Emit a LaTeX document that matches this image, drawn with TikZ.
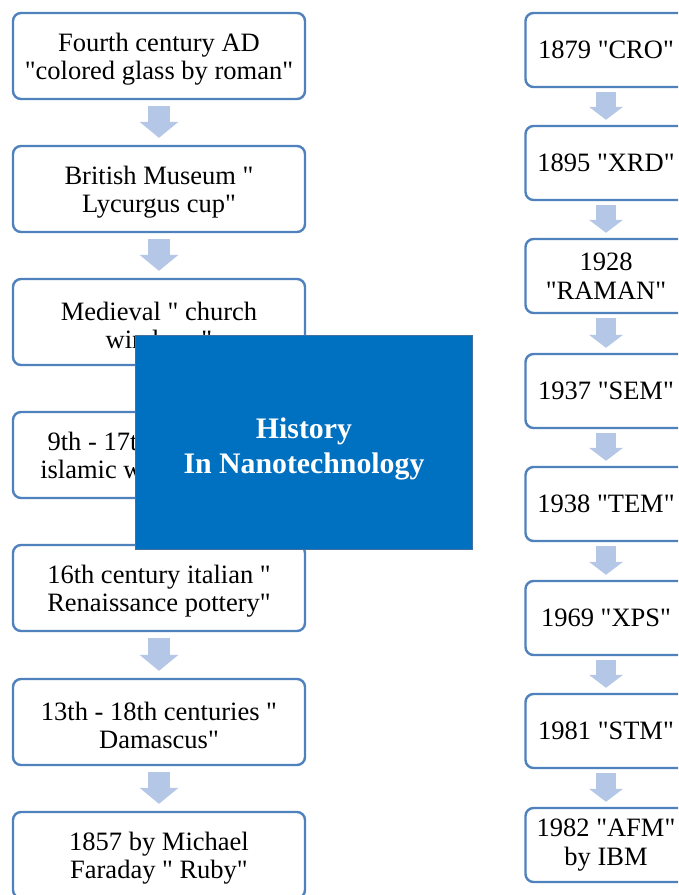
\documentclass[tikz,border=0pt]{standalone}
\usepackage{fontspec}
\setmainfont{Liberation Serif}
\newfontfamily\boxfont{Liberation Serif}
\usepackage{xcolor}
\usepackage{tikz}
\usetikzlibrary{arrows.meta,positioning}
\definecolor{boxline}{RGB}{79,129,189}
\definecolor{arrowfill}{RGB}{180,199,231}
\definecolor{titlefill}{RGB}{0,112,192}
\definecolor{titleline}{RGB}{65,113,156}

\begin{document}
\begin{tikzpicture}[x=1pt, y=-1pt, box/.style={draw=boxline, line width=2.4pt, rounded corners=8pt, fill=white, align=center, inner sep=0pt, minimum width=292pt, minimum height=86pt, font=\boxfont\fontsize{26.5}{28.5}\selectfont}, tool/.style={box, minimum width=161pt, minimum height=74pt}, down/.style={line width=22pt, draw=arrowfill, -{Triangle[width=39pt,length=16pt,line width=0pt]}}, downs/.style={line width=20pt, draw=arrowfill, -{Triangle[width=34pt,length=13pt,line width=0pt]}}, title/.style={draw=titleline, line width=1.5pt, fill=titlefill, text=white, align=center, inner sep=0pt, minimum width=337pt, minimum height=214pt, font=\boxfont\fontsize{29.8}{35}\selectfont\bfseries}]
\useasboundingbox (0,0) rectangle (678,895);
\clip (0,0) rectangle (678,895);
\node[box] (roman) at (159,56) {\rule{0pt}{25pt}Fourth century AD\\"colored glass by roman"};
\node[box] (lycurgus) at (159,189) {\rule{0pt}{25pt}British Museum "\\Lycurgus cup"};
\node[box] (church) at (159,322) {\rule{0pt}{25pt}Medieval " church\\windows"};
\node[box] (islamic) at (159,455) {\rule{0pt}{25pt}9th - 17th centuries "\\islamic world pottery"};
\node[box] (pottery) at (159,588) {\rule{0pt}{25pt}16th century italian "\\Renaissance pottery"};
\node[box] (damascus) at (159,722) {\rule{0pt}{25pt}13th - 18th centuries "\\Damascus"};
\node[box] (ruby) at (159,855) {\rule{0pt}{25pt}1857 by Michael\\Faraday " Ruby"};
\draw[down] ([yshift=-6pt]roman.south) -- ([yshift=7pt]lycurgus.north);
\draw[down] ([yshift=-6pt]lycurgus.south) -- ([yshift=7pt]church.north);
\draw[down] ([yshift=-6pt]pottery.south) -- ([yshift=7pt]damascus.north);
\draw[down] ([yshift=-6pt]damascus.south) -- ([yshift=7pt]ruby.north);
\node[tool] (cro) at (606,50) {1879 "CRO"};
\node[tool] (xrd) at (606,163) {1895 "XRD"};
\node[tool] (raman) at (606,276) {1928\\"RAMAN"};
\node[tool] (sem) at (606,391) {1937 "SEM"};
\node[tool] (tem) at (606,504) {1938 "TEM"};
\node[tool] (xps) at (606,618) {1969 "XPS"};
\node[tool] (stm) at (606,731) {1981 "STM"};
\node[tool] (afm) at (606,845) {1982 "AFM"\\by IBM};
\draw[downs] ([yshift=-4pt]cro.south) -- ([yshift=5pt]xrd.north);
\draw[downs] ([yshift=-4pt]xrd.south) -- ([yshift=5pt]raman.north);
\draw[downs] ([yshift=-4pt]raman.south) -- ([yshift=5pt]sem.north);
\draw[downs] ([yshift=-4pt]sem.south) -- ([yshift=5pt]tem.north);
\draw[downs] ([yshift=-4pt]tem.south) -- ([yshift=5pt]xps.north);
\draw[downs] ([yshift=-4pt]xps.south) -- ([yshift=5pt]stm.north);
\draw[downs] ([yshift=-4pt]stm.south) -- ([yshift=5pt]afm.north);
\node[title] (hist) at (304,442.5) {\rule{0pt}{33pt}History\\In Nanotechnology};
\end{tikzpicture}
\end{document}
